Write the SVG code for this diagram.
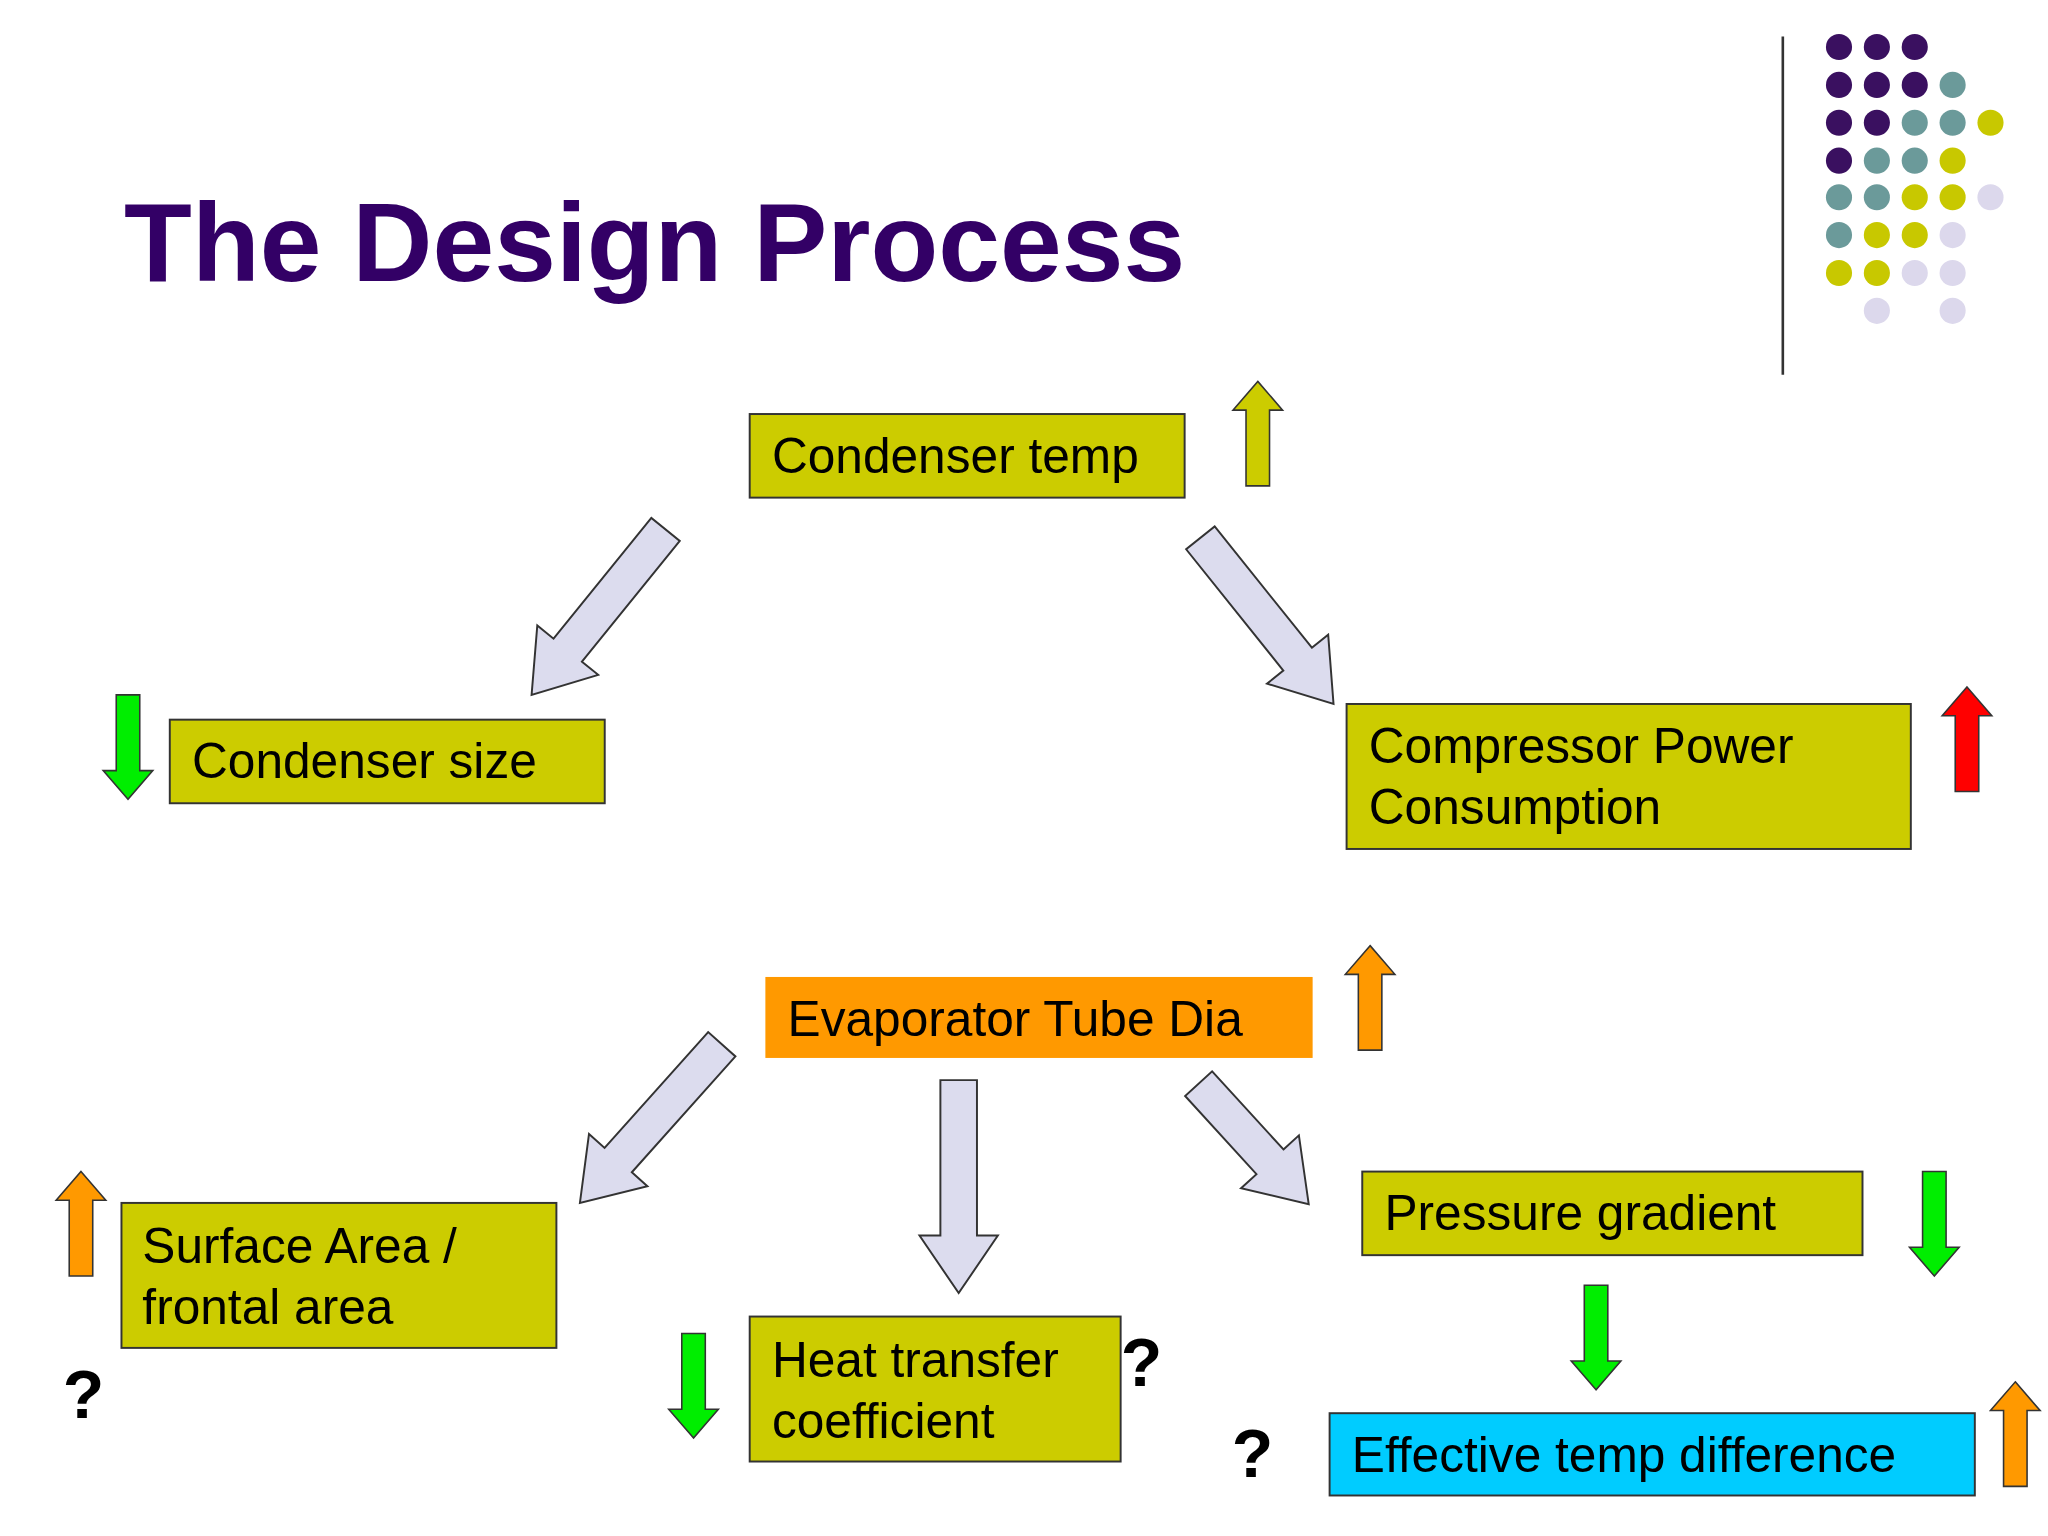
<svg xmlns="http://www.w3.org/2000/svg" width="2048" height="1536" viewBox="0 0 2048 1536">
<style>
.box{stroke:#333;stroke-width:1.5}
.t{font-family:"Liberation Sans",Arial,sans-serif;font-size:38px;fill:#000}
.q{font-family:"Liberation Sans",Arial,sans-serif;font-size:52px;font-weight:bold;fill:#000}
.big{fill:#dcdcee;stroke:#333;stroke-width:1.5}
.sm{stroke:#333;stroke-width:1.2}
.P{fill:#3a1060}.T{fill:#6b9a9a}.Y{fill:#c8c800}.L{fill:#dcd8ec}
</style>
<defs>
<polygon id="big" points="-44,-14 -44,-30 0,0 -44,30 -44,14 -163,14 -163,-14"/>
<polygon id="big2" points="-44,-14 -44,-30 0,0 -44,30 -44,14 -125,14 -125,-14"/>
<polygon id="sm" points="0,0 19,22 9,22 9,80 -9,80 -9,22 -19,22"/>
</defs>
<rect width="2048" height="1536" fill="#fff"/>
<g transform="scale(1.3061)">
<text x="95" y="215" font-family="Liberation Sans,Arial,sans-serif" font-size="85" font-weight="bold" fill="#330066">The Design Process</text>
<line x1="1365" y1="28" x2="1365" y2="287" stroke="#333" stroke-width="2"/>
<g id="dots">
<circle class="P" cx="1408" cy="36" r="10"/><circle class="P" cx="1437" cy="36" r="10"/><circle class="P" cx="1466" cy="36" r="10"/>
<circle class="P" cx="1408" cy="65" r="10"/><circle class="P" cx="1437" cy="65" r="10"/><circle class="P" cx="1466" cy="65" r="10"/><circle class="T" cx="1495" cy="65" r="10"/>
<circle class="P" cx="1408" cy="94" r="10"/><circle class="P" cx="1437" cy="94" r="10"/><circle class="T" cx="1466" cy="94" r="10"/><circle class="T" cx="1495" cy="94" r="10"/><circle class="Y" cx="1524" cy="94" r="10"/>
<circle class="P" cx="1408" cy="123" r="10"/><circle class="T" cx="1437" cy="123" r="10"/><circle class="T" cx="1466" cy="123" r="10"/><circle class="Y" cx="1495" cy="123" r="10"/>
<circle class="T" cx="1408" cy="151" r="10"/><circle class="T" cx="1437" cy="151" r="10"/><circle class="Y" cx="1466" cy="151" r="10"/><circle class="Y" cx="1495" cy="151" r="10"/><circle class="L" cx="1524" cy="151" r="10"/>
<circle class="T" cx="1408" cy="180" r="10"/><circle class="Y" cx="1437" cy="180" r="10"/><circle class="Y" cx="1466" cy="180" r="10"/><circle class="L" cx="1495" cy="180" r="10"/>
<circle class="Y" cx="1408" cy="209" r="10"/><circle class="Y" cx="1437" cy="209" r="10"/><circle class="L" cx="1466" cy="209" r="10"/><circle class="L" cx="1495" cy="209" r="10"/>
<circle class="L" cx="1437" cy="238" r="10"/><circle class="L" cx="1495" cy="238" r="10"/>
</g>
<g id="connectors">
<use href="#big" class="big" transform="translate(407,532) rotate(129)"/>
<use href="#big" class="big" transform="translate(1021,539) rotate(51.3)"/>
<use href="#big" class="big" transform="translate(444,921) rotate(131.8)"/>
<use href="#big" class="big" transform="translate(734,990) rotate(90)"/>
<use href="#big2" class="big" transform="translate(1002,922) rotate(47.6)"/>
</g>
<g id="indicators">
<use href="#sm" class="sm" fill="#cccc00" transform="translate(963,292)"/>
<use href="#sm" class="sm" fill="#00ee00" transform="translate(98,612) rotate(180)"/>
<use href="#sm" class="sm" fill="#ff0000" transform="translate(1506,526)"/>
<use href="#sm" class="sm" fill="#ff9900" transform="translate(1049,724)"/>
<use href="#sm" class="sm" fill="#ff9900" transform="translate(62,897)"/>
<use href="#sm" class="sm" fill="#00ee00" transform="translate(531,1101) rotate(180)"/>
<use href="#sm" class="sm" fill="#00ee00" transform="translate(1481,977) rotate(180)"/>
<use href="#sm" class="sm" fill="#00ee00" transform="translate(1222,1064) rotate(180)"/>
<use href="#sm" class="sm" fill="#ff9900" transform="translate(1543,1058)"/>
</g>
<g id="n1"><rect class="box" x="574" y="317" width="333" height="64" fill="#cccc00"/><text class="t" x="591" y="362">Condenser temp</text></g>
<g id="n2"><rect class="box" x="130" y="551" width="333" height="64" fill="#cccc00"/><text class="t" x="147" y="596">Condenser size</text></g>
<g id="n3"><rect class="box" x="1031" y="539" width="432" height="111" fill="#cccc00"/><text class="t" x="1048" y="584">Compressor Power</text><text class="t" x="1048" y="631">Consumption</text></g>
<g id="n4"><rect x="586" y="748" width="419" height="62" fill="#ff9900"/><text class="t" x="603" y="793">Evaporator Tube Dia</text></g>
<g id="n5"><rect class="box" x="93" y="921" width="333" height="111" fill="#cccc00"/><text class="t" x="109" y="967">Surface Area /</text><text class="t" x="109" y="1014">frontal area</text></g>
<g id="n6"><rect class="box" x="574" y="1008" width="284" height="111" fill="#cccc00"/><text class="t" x="591" y="1054">Heat transfer</text><text class="t" x="591" y="1101">coefficient</text></g>
<g id="n7"><rect class="box" x="1043" y="897" width="383" height="64" fill="#cccc00"/><text class="t" x="1060" y="942">Pressure gradient</text></g>
<g id="n8"><rect class="box" x="1018" y="1082" width="494" height="63" fill="#00ccff"/><text class="t" x="1035" y="1127">Effective temp difference</text></g>
<text class="q" x="48" y="1086">?</text>
<text class="q" x="858" y="1061">?</text>
<text class="q" x="943" y="1131">?</text>
</g>
</svg>
